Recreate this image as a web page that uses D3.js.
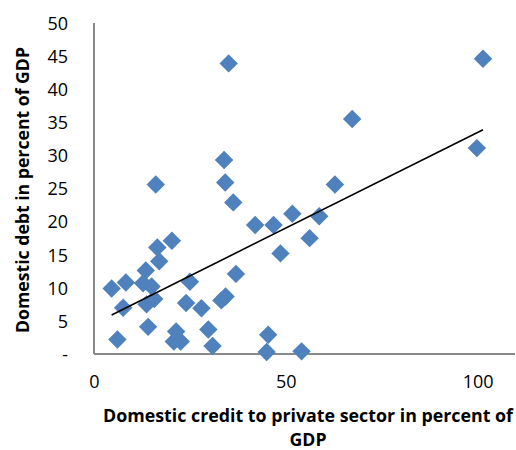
<!DOCTYPE html>
<html>
<head>
<meta charset="utf-8">
<script src="https://cdn.jsdelivr.net/npm/d3@7"></script>
<style>
  html, body { margin: 0; padding: 0; background: #fff; }
  svg { display: block; }
  text { font-family: "Open Sans", "Liberation Sans", sans-serif; fill: #000; }
</style>
</head>
<body>
<svg id="chart" width="516" height="450"></svg>
<script>
// Domestic credit to private sector (% of GDP)
const creditPct = [101.4, 35.1, 67.3, 99.8, 33.9, 34.2, 16.1, 62.8, 36.3, 51.7,
                   58.7, 42.0, 46.8, 20.3, 56.2, 16.5, 48.6, 17.0, 13.5, 37.0,
                   8.3, 4.6, 12.8, 15.0, 25.0, 7.6, 13.7, 15.7, 24.0, 28.0,
                   33.2, 34.3, 6.1, 14.1, 21.4, 20.8, 22.6, 29.8, 30.9, 45.4,
                   45.0, 54.1];
// Domestic debt (% of GDP)
const debtPct   = [44.6, 43.9, 35.5, 31.1, 29.3, 25.9, 25.6, 25.6, 22.9, 21.2,
                   20.8, 19.5, 19.5, 17.1, 17.5, 16.1, 15.2, 14.0, 12.6, 12.1,
                   10.8, 9.9, 10.7, 10.2, 10.9, 7.0, 7.5, 8.3, 7.7, 6.9,
                   8.1, 8.7, 2.2, 4.1, 3.4, 1.9, 1.9, 3.7, 1.2, 2.9,
                   0.3, 0.4];

const xTicks = [0, 50, 100];
const yTicks = [0, 5, 10, 15, 20, 25, 30, 35, 40, 45, 50];
const yTickLabels = ["-", "5", "10", "15", "20", "25", "30", "35", "40", "45", "50"];
const xTitle = ["Domestic  credit to private sector in percent of", "GDP"];
const yTitle = "Domestic debt in percent of GDP";

const svg = d3.select("#chart");
const x = d3.scaleLinear().domain([0, 110]).range([94, 516]);
const y = d3.scaleLinear().domain([0, 50]).range([354, 23]);

const axisColor = "#898989";

// axes lines
svg.append("line").attr("x1", x(0)).attr("x2", 515).attr("y1", y(0)).attr("y2", y(0))
  .attr("stroke", axisColor).attr("stroke-width", 2);
svg.append("line").attr("x1", x(0)).attr("x2", x(0)).attr("y1", y(0)).attr("y2", y(50))
  .attr("stroke", axisColor).attr("stroke-width", 2);

// tick labels via d3 axes (lines hidden)
const yAxis = d3.axisLeft(y).tickValues(yTicks)
  .tickFormat((d, i) => yTickLabels[i]).tickSize(0).tickPadding(0);
const gy = svg.append("g").attr("transform", "translate(68,0)").call(yAxis);
gy.select(".domain").remove();
gy.selectAll("text").attr("font-size", 18).attr("font-family", "Open Sans, sans-serif")
  .attr("fill", "#000").attr("dy", "0.35em");

const xAxis = d3.axisBottom(x).tickValues(xTicks).tickFormat(d3.format("d"))
  .tickSize(0).tickPadding(0);
const gx = svg.append("g").attr("transform", "translate(0,374)").call(xAxis);
gx.select(".domain").remove();
gx.selectAll("text").attr("font-size", 18).attr("font-family", "Open Sans, sans-serif")
  .attr("fill", "#000").attr("dy", "0.35em").attr("y", 8);

// points
const pts = creditPct.map((c, i) => [c, debtPct[i]]);
const diamond = d3.symbol().type(d3.symbolSquare).size(170);
svg.append("g").selectAll("path").data(pts).join("path")
  .attr("d", diamond)
  .attr("transform", d => `translate(${x(d[0])},${y(d[1])}) rotate(45)`)
  .attr("fill", "#4F81BD");

// least-squares trend line over the data range
const mx = d3.mean(creditPct), my = d3.mean(debtPct);
const sxy = d3.sum(pts, d => (d[0] - mx) * (d[1] - my));
const sxx = d3.sum(pts, d => (d[0] - mx) ** 2);
const slope = sxy / sxx, intercept = my - slope * mx;
const [x0, x1] = d3.extent(creditPct);
svg.append("line")
  .attr("x1", x(x0)).attr("y1", y(intercept + slope * x0))
  .attr("x2", x(x1)).attr("y2", y(intercept + slope * x1))
  .attr("stroke", "#000").attr("stroke-width", 1.6);

// titles
svg.append("text").attr("x", 308).attr("y", 416).attr("dy", "0.35em")
  .attr("text-anchor", "middle").attr("font-size", 17).attr("font-weight", "bold")
  .attr("textLength", 410).attr("lengthAdjust", "spacingAndGlyphs")
  .text(xTitle[0]);
svg.append("text").attr("x", 308).attr("y", 440).attr("dy", "0.35em")
  .attr("text-anchor", "middle").attr("font-size", 17).attr("font-weight", "bold")
  .attr("textLength", 37).attr("lengthAdjust", "spacingAndGlyphs")
  .text(xTitle[1]);
svg.append("text").attr("transform", "translate(23,190) rotate(-90)").attr("dy", "0.35em")
  .attr("text-anchor", "middle").attr("font-size", 17).attr("font-weight", "bold")
  .attr("textLength", 286).attr("lengthAdjust", "spacingAndGlyphs")
  .text(yTitle);
</script>
</body>
</html>
